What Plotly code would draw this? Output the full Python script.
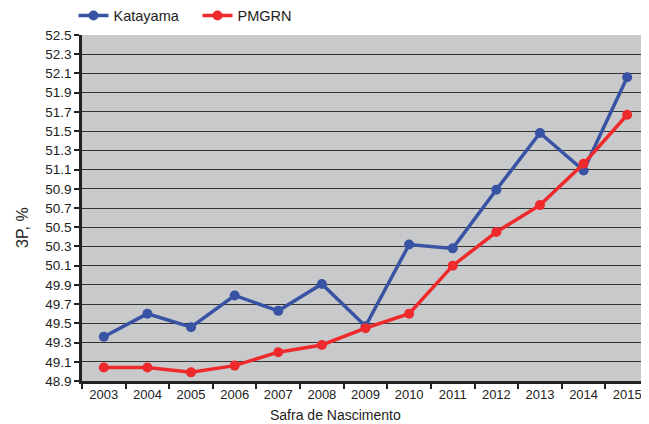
import plotly.graph_objects as go

years = ["2003", "2004", "2005", "2006", "2007", "2008", "2009", "2010", "2011", "2012", "2013", "2014", "2015"]
katayama = [49.36, 49.60, 49.46, 49.79, 49.63, 49.91, 49.47, 50.32, 50.28, 50.89, 51.48, 51.09, 52.06]
pmgrn = [49.04, 49.04, 48.99, 49.06, 49.20, 49.275, 49.45, 49.60, 50.10, 50.45, 50.73, 51.16, 51.67]
ytick_vals = [48.9 + 0.2 * i for i in range(19)]
ytick_text = ["%.1f" % v for v in ytick_vals]

fig = go.Figure()
fig.add_trace(go.Scatter(x=years, y=katayama, name="Katayama", mode="lines+markers",
                         line=dict(color="#3953a4", width=3.5), marker=dict(size=10, color="#3953a4")))
fig.add_trace(go.Scatter(x=years, y=pmgrn, name="PMGRN", mode="lines+markers",
                         line=dict(color="#ee2a2d", width=3.5), marker=dict(size=10, color="#ee2a2d")))

PW, PH = 567, 346
font = "Liberation Sans, Arial, Helvetica, sans-serif"
fig.update_layout(
    width=641, height=416,
    margin=dict(l=74, r=0, t=27, b=43, autoexpand=False),
    paper_bgcolor="white", plot_bgcolor="#c8c9cb",
    font=dict(family=font, size=12, color="#222"),
    showlegend=True,
    legend=dict(orientation="h", x=-0.015, y=1.01, yanchor="bottom", xanchor="left",
                font=dict(size=14.5, color="#222"), bgcolor="rgba(0,0,0,0)",
                entrywidth=79, entrywidthmode="pixels"),
    xaxis=dict(type="category", tickson="boundaries", ticks="outside", ticklen=5, tickwidth=1.5,
               tickcolor="#222", showline=True, linecolor="#222", linewidth=2.5, showgrid=False,
               range=[-0.5, 12.5], tickfont=dict(size=13), automargin=False),
    yaxis=dict(range=[48.9, 52.5], tickvals=ytick_vals, ticktext=ytick_text, ticks="outside",
               ticklen=5, tickwidth=1.5, tickcolor="#222", showline=True, linecolor="#222",
               linewidth=2.5, showgrid=True, gridcolor="#333", gridwidth=1.2, zeroline=False,
               tickfont=dict(size=13.5), automargin=False),
    annotations=[
        dict(text="Safra de Nascimento", xref="paper", yref="paper", x=(335 - 82) / PW,
             y=-34 / PH, showarrow=False, font=dict(size=14), xanchor="center", yanchor="middle"),
        dict(text="3P, %", xref="paper", yref="paper", x=-60 / PW, y=(381 - 228) / PH,
             textangle=-90, showarrow=False, font=dict(size=16), xanchor="center", yanchor="middle"),
    ],
)
fig.write_html("out.html")
